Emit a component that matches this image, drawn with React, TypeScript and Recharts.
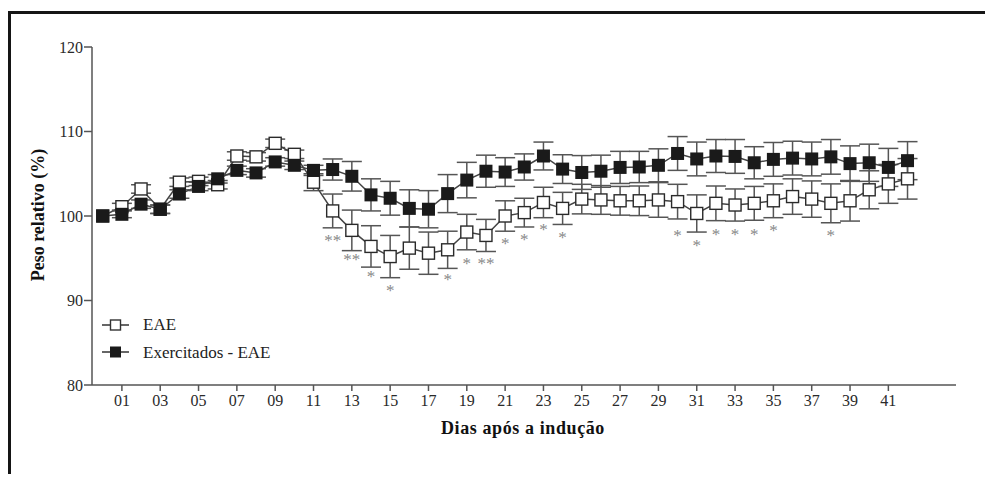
import {
  ComposedChart,
  Line,
  Scatter,
  XAxis,
  YAxis,
  ErrorBar,
} from "recharts";

const days = [
  0, 1, 2, 3, 4, 5, 6, 7, 8, 9, 10, 11, 12, 13, 14, 15, 16, 17, 18, 19, 20,
  21, 22, 23, 24, 25, 26, 27, 28, 29, 30, 31, 32, 33, 34, 35, 36, 37, 38, 39,
  40, 41, 42,
];

// EAE (open squares)
const eae = [
  100.0, 101.1, 103.2, 100.8, 104.0, 104.1, 103.7, 107.1, 107.0, 108.6, 107.3,
  104.0, 100.6, 98.3, 96.4, 95.2, 96.2, 95.6, 96.0, 98.1, 97.7, 100.0, 100.4,
  101.6, 100.9, 102.0, 101.9, 101.8, 101.8, 101.9, 101.7, 100.3, 101.5, 101.3,
  101.5, 101.8, 102.3, 102.0, 101.5, 101.8, 103.1, 103.8, 104.4,
];
const eaeErr = [
  0, 0.4, 0.5, 0.5, 0.5, 0.5, 0.5, 0.5, 0.5, 0.5, 0.5, 1.0, 2.0, 2.4, 2.45,
  2.5, 2.5, 2.5, 2.2, 2.1, 1.9, 1.8, 1.7, 1.8, 1.9, 1.75, 1.7, 1.7, 1.75, 2.05,
  2.05, 2.2, 2.05, 1.9, 2.0, 2.0, 2.1, 2.15, 2.3, 2.4, 2.25, 2.3, 2.4,
];

// Exercitados - EAE (filled squares)
const exerc = [
  100.0, 100.2, 101.4, 100.8, 102.6, 103.5, 104.4, 105.4, 105.1, 106.4, 106.0,
  105.4, 105.5, 104.7, 102.5, 102.1, 100.9, 100.8, 102.65, 104.25, 105.3,
  105.2, 105.8, 107.1, 105.55, 105.15, 105.3, 105.75, 105.8, 106.0, 107.4,
  106.75, 107.1, 107.05, 106.3, 106.7, 106.85, 106.75, 107.0, 106.2, 106.3,
  105.75, 106.55,
];
const exercErr = [
  0, 0.4, 0.5, 0.5, 0.5, 0.5, 0.5, 0.5, 0.5, 0.5, 0.5, 0.6, 1.25, 1.75, 1.9,
  2.0, 2.2, 2.2, 2.25, 2.1, 1.9, 1.7, 1.55, 1.65, 1.7, 2.0, 1.9, 1.9, 1.85,
  1.95, 2.0, 2.0, 1.95, 2.0, 1.9, 2.0, 2.0, 2.0, 2.05, 2.1, 2.2, 2.25, 2.25,
];

// significance marks under the EAE curve
const sigDays = [12, 13, 14, 15, 18, 19, 20, 21, 22, 23, 24, 30, 31, 32, 33, 34, 35, 38];
const sigMarks = ["**", "**", "*", "*", "*", "*", "**", "*", "*", "*", "*", "*", "*", "*", "*", "*", "*", "*"];
const sigY = [97.2, 94.9, 92.9, 91.3, 92.5, 94.4, 94.4, 96.8, 97.3, 98.5, 97.5, 97.8, 96.6, 97.9, 97.9, 97.9, 98.3, 97.7];

const xTicks = [1, 3, 5, 7, 9, 11, 13, 15, 17, 19, 21, 23, 25, 27, 29, 31, 33, 35, 37, 39, 41];
const yTicks = [80, 90, 100, 110, 120];

const FONT = "Liberation Serif, serif";

const data = days.map((d, i) => ({
  day: d,
  eae: eae[i],
  eaeErr: eaeErr[i],
  exerc: exerc[i],
  exercErr: exercErr[i],
}));

const sigData = sigDays.map((d, i) => ({ day: d, y: sigY[i], mark: sigMarks[i] }));

function OpenSquare(props: any) {
  const { cx, cy } = props;
  if (cx == null || cy == null) return null;
  return (
    <rect x={cx - 6} y={cy - 6} width={12} height={12} fill="#fff" stroke="#2a2a2a" strokeWidth={1.4} />
  );
}

function FilledSquare(props: any) {
  const { cx, cy } = props;
  if (cx == null || cy == null) return null;
  return <rect x={cx - 6.5} y={cy - 6.5} width={13} height={13} fill="#1a1a1a" />;
}

function Star(props: any) {
  const { cx, cy, payload } = props;
  return (
    <text x={cx} y={cy + 6} textAnchor="middle" fontFamily={FONT} fontSize={17} fill="#888">
      {payload.mark}
    </text>
  );
}

function YTitle() {
  return (
    <text
      x={36}
      y={207}
      transform="rotate(-90 36 207)"
      textAnchor="middle"
      fontFamily={FONT}
      fontWeight="bold"
      fontSize={18}
      fill="#111"
    >
      Peso relativo (%)
    </text>
  );
}

function XTitle() {
  return (
    <text x={515} y={426} textAnchor="middle" fontFamily={FONT} fontWeight="bold" fontSize={18} letterSpacing={0.6} fill="#111">
      Dias após a indução
    </text>
  );
}

export default function App() {
  return (
    <div style={{ position: "relative", width: 985, height: 466 }}>
      <div
        style={{
          position: "absolute",
          left: 0,
          top: 3,
          width: 985,
          height: 470,
          borderTop: "3px solid #151515",
          borderLeft: "3px solid #151515",
        }}
      />
      <div style={{ position: "absolute", left: 0, top: 0 }}>
        <ComposedChart
          width={985}
          height={460}
          data={data}
          margin={{ top: 39, right: 37, bottom: 23, left: 0 }}
        >
          <XAxis
            dataKey="day"
            type="number"
            domain={[-0.56, 44.53]}
            allowDataOverflow
            ticks={xTicks}
            tickFormatter={(v) => String(v).padStart(2, "0")}
            height={60}
            tickSize={6}
            tickMargin={4}
            tick={{ fill: "#2a2a2a", fontSize: 16, fontFamily: FONT }}
            axisLine={{ stroke: "#555", strokeWidth: 1.5 }}
            tickLine={{ stroke: "#555", strokeWidth: 1.5 }}
            label={<XTitle />}
          />
          <YAxis
            type="number"
            domain={[80, 120]}
            ticks={yTicks}
            width={84}
            tickSize={8}
            tickMargin={1}
            tick={{ fill: "#2a2a2a", fontSize: 16, fontFamily: FONT }}
            axisLine={{ stroke: "#555", strokeWidth: 1.5 }}
            tickLine={{ stroke: "#555", strokeWidth: 1.5 }}
            label={<YTitle />}
          />
          <Line
            dataKey="eae"
            stroke="#444"
            strokeWidth={1.5}
            dot={<OpenSquare />}
            activeDot={false}
            isAnimationActive={false}
          >
            <ErrorBar dataKey="eaeErr" width={10} stroke="#555" strokeWidth={1.5} direction="y" />
          </Line>
          <Line
            dataKey="exerc"
            stroke="#444"
            strokeWidth={1.5}
            dot={<FilledSquare />}
            activeDot={false}
            isAnimationActive={false}
          >
            <ErrorBar dataKey="exercErr" width={10} stroke="#555" strokeWidth={1.5} direction="y" />
          </Line>
          <Scatter data={sigData} dataKey="y" shape={<Star />} isAnimationActive={false} />
        </ComposedChart>
      </div>
      <svg
        style={{ position: "absolute", left: 0, top: 0 }}
        width={300}
        height={380}
      >
        <line x1={94} x2={121} y1={317} y2={317} stroke="#333" strokeWidth={1.5} />
        <rect x={102.5} y={312} width={10} height={10} fill="#fff" stroke="#333" strokeWidth={1.4} />
        <text x={135} y={322} fontFamily={FONT} fontSize={17} fill="#222">
          EAE
        </text>
        <line x1={94} x2={121} y1={344} y2={344} stroke="#333" strokeWidth={1.5} />
        <rect x={102} y={338.5} width={11} height={11} fill="#1a1a1a" />
        <text x={135} y={350} fontFamily={FONT} fontSize={17} fill="#222">
          Exercitados - EAE
        </text>
      </svg>
    </div>
  );
}
